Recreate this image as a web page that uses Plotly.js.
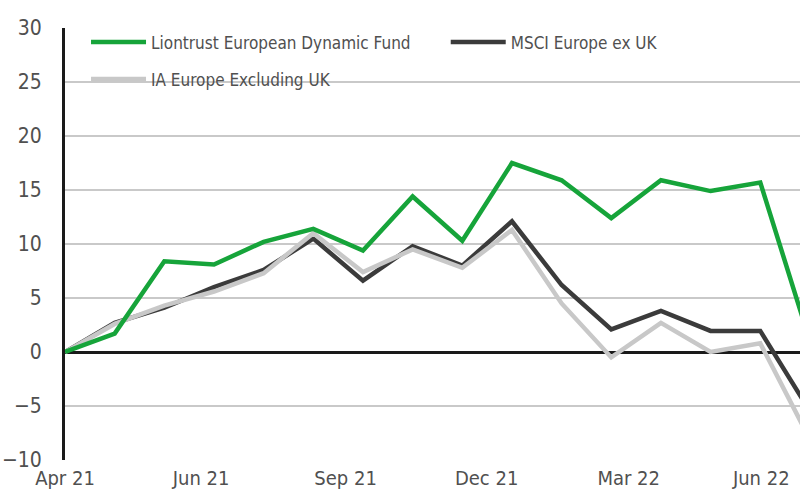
<!DOCTYPE html>
<html>
<head>
<meta charset="utf-8">
<script src="https://cdn.plot.ly/plotly-3.0.1.min.js"></script>
<style>
  html, body { margin: 0; padding: 0; background: #ffffff; }
  #chart { width: 800px; height: 489px; }
</style>
</head>
<body>
<div id="chart"></div>
<script>
// Monthly points (cumulative % return), starting Apr 21
const months = ['Apr 21','May 21','Jun 21','Jul 21','Aug 21','Sep 21','Oct 21','Nov 21','Dec 21','Jan 22','Feb 22','Mar 22','Apr 22','May 22','Jun 22','Jul 22'];
const liontrust = [0, 1.7, 8.4, 8.1, 10.2, 11.4, 9.4, 14.4, 10.3, 17.5, 15.9, 12.4, 15.9, 14.9, 15.7, 1.0];
const msci      = [0, 2.7, 4.1, 6.0, 7.6, 10.5, 6.6, 9.8, 8.0, 12.1, 6.2, 2.1, 3.8, 1.95, 1.95, -5.5];
const iaSector  = [0, 2.6, 4.3, 5.6, 7.3, 11.0, 7.4, 9.5, 7.8, 11.3, 4.5, -0.5, 2.7, 0.0, 0.8, -8.1];
const tickLabels = ['Apr 21','Jun 21','Sep 21','Dec 21','Mar 22','Jun 22'];
const seriesNames = ['Liontrust European Dynamic Fund', 'MSCI Europe ex UK', 'IA Europe Excluding UK'];

const xIdx = months.map((m, i) => i);
const FONT = '"DejaVu Sans Condensed", "DejaVu Sans", sans-serif';
const TXT = '#505050';

const traces = [
  { x: xIdx, y: msci, name: seriesNames[1], type: 'scatter', mode: 'lines',
    line: { color: '#3b3b3b', width: 4.5 }, legend: 'legend3', text: months },
  { x: xIdx, y: iaSector, name: seriesNames[2], type: 'scatter', mode: 'lines',
    line: { color: '#c8c8c8', width: 4.5 }, legend: 'legend2', text: months },
  { x: xIdx, y: liontrust, name: seriesNames[0], type: 'scatter', mode: 'lines',
    line: { color: '#16a43a', width: 4.5 }, legend: 'legend', text: months }
];

function legendAt(x, y) {
  return {
    orientation: 'h', x: x, y: y, xanchor: 'left', yanchor: 'top',
    itemwidth: 55, bgcolor: 'rgba(0,0,0,0)',
    font: { family: FONT, size: 17, color: TXT }
  };
}

const layout = {
  width: 800, height: 489,
  margin: { l: 65, r: 0, t: 28, b: 29 },
  paper_bgcolor: '#ffffff', plot_bgcolor: '#ffffff',
  font: { family: FONT, size: 20, color: TXT },
  showlegend: true,
  legend: legendAt(0.0286, 1.008),
  legend3: legendAt(0.518, 1.008),
  legend2: legendAt(0.0286, 0.9225),
  xaxis: {
    type: 'linear', range: [0, 14.8],
    tickmode: 'array', tickvals: [0, 2.74, 5.65, 8.49, 11.35, 14.02], ticktext: tickLabels,
    showgrid: false, zeroline: false, showline: false, ticks: '',
    ticklabelstandoff: 4,
    tickfont: { family: FONT, size: 20, color: TXT },
    fixedrange: true
  },
  yaxis: {
    range: [-10, 30], dtick: 5, tick0: 0,
    showgrid: true, gridcolor: '#c9c9c9', gridwidth: 2.5,
    zeroline: true, zerolinecolor: '#1a1a1a', zerolinewidth: 3,
    showline: true, linecolor: '#1a1a1a', linewidth: 3,
    ticks: '', ticklabelstandoff: 16,
    tickfont: { family: FONT, size: 21, color: TXT },
    fixedrange: true
  }
};

Plotly.newPlot('chart', traces, layout, { displayModeBar: false, staticPlot: true });
</script>
</body>
</html>
